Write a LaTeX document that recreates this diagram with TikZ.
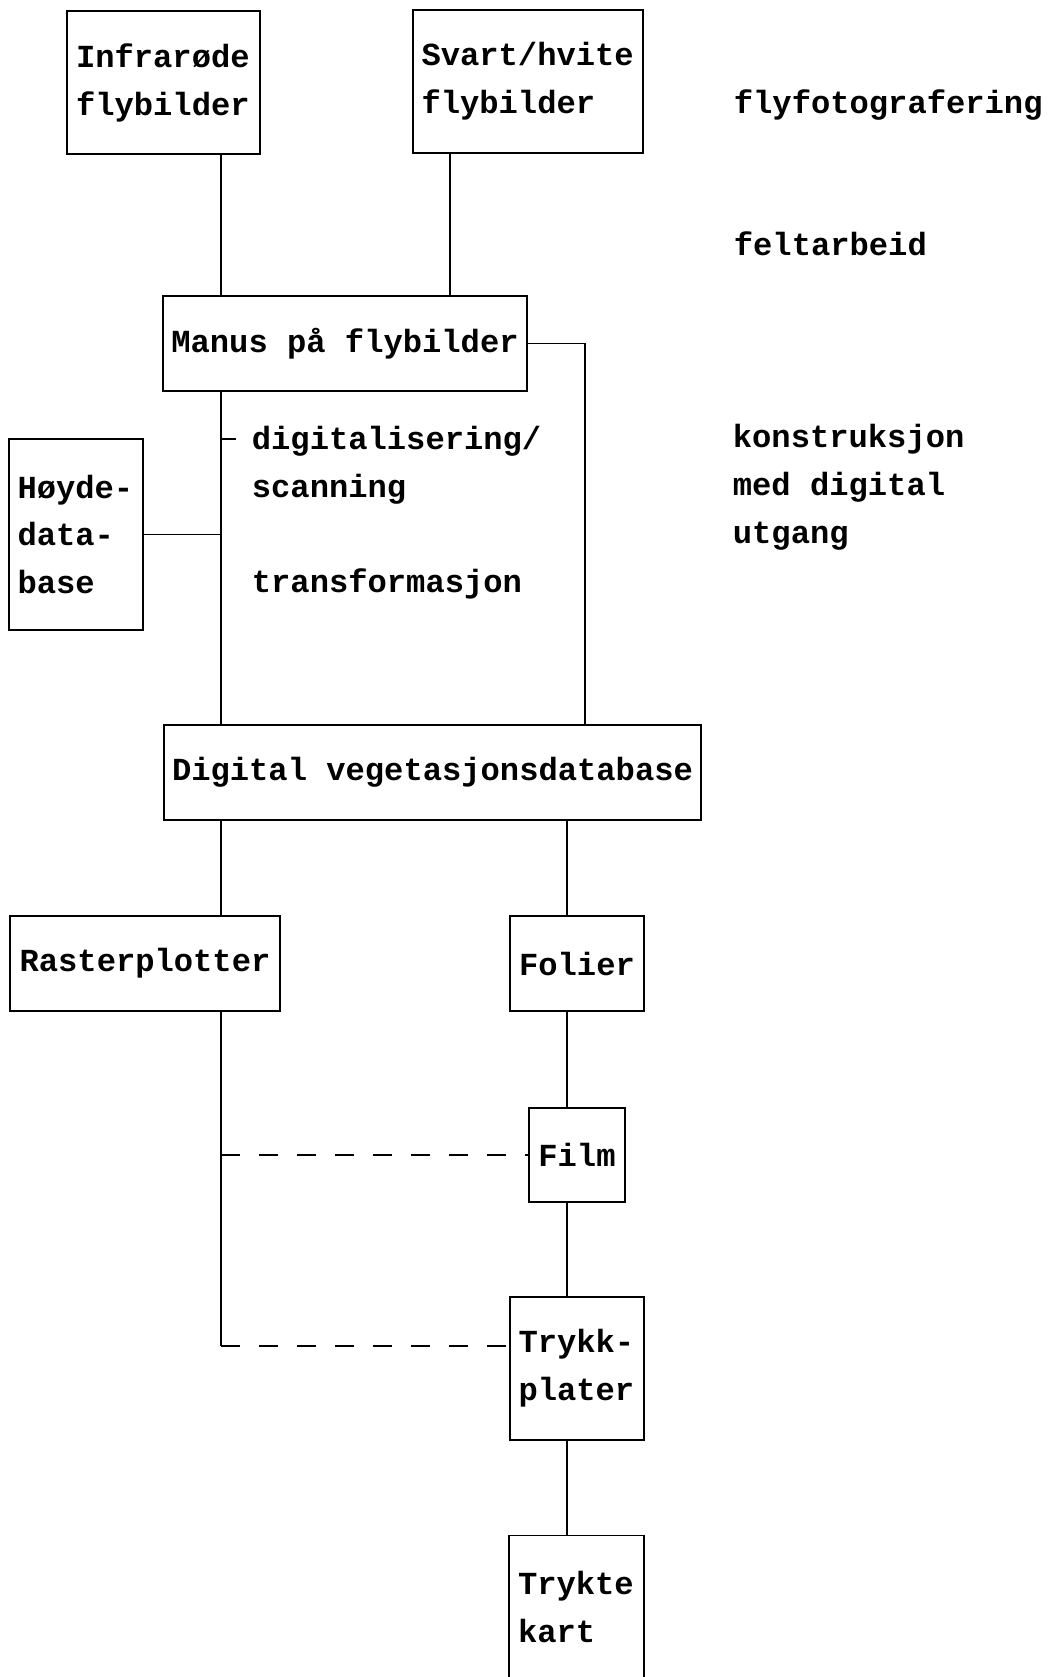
\documentclass[tikz,border=0pt]{standalone}
\usepackage{fontspec}
\setmainfont{Liberation Mono}
\begin{document}
\begin{tikzpicture}[x=0.02cm, y=-0.02cm, line width=1pt,
		every node/.style={font=\fontsize{18.3}{27.3}\selectfont\bfseries},
		box/.style={draw, inner sep=0pt, align=left},
		note/.style={inner sep=0pt, anchor=base west, align=left},
		tap/.style={dash pattern=on 0.38cm off 0.38cm}]
	\useasboundingbox (0,0) rectangle (1051,1677);
	% columns of the connecting lines
	\coordinate (colL) at (221,0);
	\coordinate (colS) at (450,0);
	\coordinate (colR) at (585,0);
	\coordinate (colF) at (567,0);
	\coordinate (tick) at (236,439);
	\coordinate (midtap) at (221,1155);
	\coordinate (lowtap) at (221,1346);

	\node [box, minimum width=3.86cm, minimum height=2.86cm, text width=3.5cm] (infra) at (163.5,82.5) {Infrarøde\\flybilder};
	\node [box, minimum width=4.6cm, minimum height=2.86cm, text width=4.26cm] (svart) at (528,81.5) {Svart/hvite\\flybilder};
	\node [box, minimum width=7.28cm, minimum height=1.9cm] (manus) at (345,343.5) {Manus på flybilder};
	\node [box, minimum width=2.68cm, minimum height=3.82cm, text width=2.34cm] (hoyde) at (76,534.5) {Høyde-\\data-\\base};
	\node [box, minimum width=10.74cm, minimum height=1.9cm] (digital) at (432.5,772.5) {Digital vegetasjonsdatabase};
	\node [box, minimum width=5.4cm, minimum height=1.9cm] (raster) at (145,963.5) {Rasterplotter};
	\node [box, minimum width=2.68cm, minimum height=1.9cm] (folier) at (577,963.5) {Folier};
	\node [box, minimum width=1.92cm, minimum height=1.88cm] (film) at (577,1155) {Film};
	\node [box, minimum width=2.68cm, minimum height=2.86cm, text width=2.34cm] (trykk) at (577,1368.5) {Trykk-\\plater};
	\node [box, minimum width=2.7cm, minimum height=2.86cm, text width=2.34cm] (trykte) at (576.5,1607) {Trykte\\kart};

	% base of a note is the baseline of its last line
	\node [note] (digi) at (251,497) {digitalisering/\\scanning};
	\node [note] (transf) at (251,592) {transformasjon};
	\node [note] (flyfoto) at (733,113) {flyfotografering};
	\node [note] (felt) at (733,255) {feltarbeid};
	\node [note] (konstr) at (732,543) {konstruksjon\\med digital\\utgang};

	\draw (infra.south -| colL) -- (manus.north -| colL);
	\draw (svart.south -| colS) -- (manus.north -| colS);
	\draw (manus.east) -| (digital.north -| colR);
	\draw (manus.south -| colL) -- (digital.north -| colL);
	\draw (tick -| colL) -- (tick);
	\draw (hoyde.east) -- (hoyde.east -| colL);
	\draw (digital.south -| colL) -- (raster.north -| colL);
	\draw (digital.south -| colF) -- (folier.north -| colF);
	\draw (raster.south -| colL) -- (lowtap);
	\draw [tap] (midtap) -- (film.west);
	\draw [tap] (lowtap) -- (lowtap -| trykk.west);
	\draw (folier.south -| colF) -- (film.north -| colF);
	\draw (film.south -| colF) -- (trykk.north -| colF);
	\draw (trykk.south -| colF) -- (trykte.north -| colF);
\end{tikzpicture}
\end{document}
